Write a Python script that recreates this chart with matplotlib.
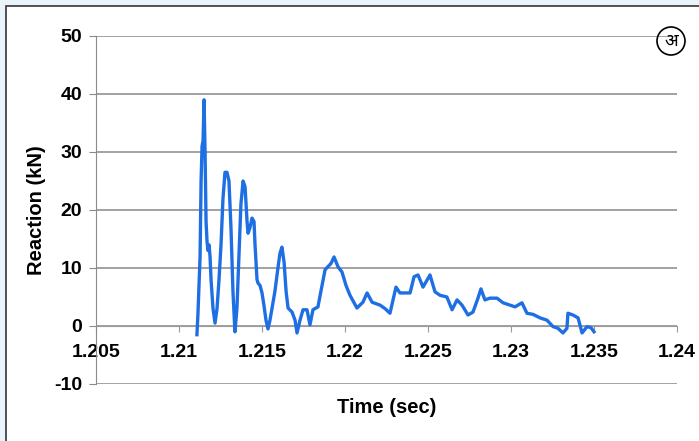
import matplotlib
matplotlib.use("Agg")
import matplotlib.pyplot as plt
from matplotlib.patches import Rectangle, Circle

time_s = [1.21108, 1.21114, 1.21127, 1.21133, 1.21139, 1.21145, 1.21151, 1.21157,
          1.21163, 1.21169, 1.21175, 1.21181, 1.21187, 1.21193, 1.21205, 1.21217,
          1.21229, 1.21241, 1.21253, 1.21265, 1.21277, 1.21289, 1.21301, 1.21313,
          1.21325, 1.21337, 1.21349, 1.21361, 1.21373, 1.21386, 1.21398, 1.21410,
          1.21416, 1.21428, 1.21440, 1.21452, 1.21458, 1.21470, 1.21476, 1.21488,
          1.21500, 1.21512, 1.21524, 1.21536, 1.21548, 1.21560, 1.21578, 1.21596,
          1.21608, 1.21620, 1.21633, 1.21645, 1.21657, 1.21681, 1.21699, 1.21711,
          1.21729, 1.21747, 1.21771, 1.21789, 1.21807, 1.21837, 1.21855, 1.21880,
          1.21916, 1.21934, 1.21958, 1.21982, 1.22006, 1.22030, 1.22072, 1.22108,
          1.22133, 1.22163, 1.22211, 1.22241, 1.22271, 1.22307, 1.22331, 1.22392,
          1.22416, 1.22440, 1.22470, 1.22512, 1.22542, 1.22572, 1.22614, 1.22645,
          1.22675, 1.22705, 1.22741, 1.22771, 1.22801, 1.22819, 1.22843, 1.22873,
          1.22916, 1.22952, 1.22994, 1.23024, 1.23066, 1.23096, 1.23133, 1.23175,
          1.23217, 1.23253, 1.23283, 1.23313, 1.23337, 1.23343, 1.23373, 1.23404,
          1.23428, 1.23458, 1.23482, 1.23500]
reaction_kn = [-1.5, 2, 12, 25, 31, 32, 39, 30,
               18, 14.5, 13, 14, 12, 8, 3, 0.5,
               3, 8, 14, 22, 26.5, 26.5, 25, 17,
               6, -1, 3, 12, 21, 25, 24, 18,
               16, 17, 18.6, 18, 14, 8, 7.4, 7,
               5.7, 3.5, 1, -0.5, 1, 3, 6, 10,
               12.5, 13.6, 11, 6, 3.1, 2.4, 1, -1.2,
               1, 2.8, 2.8, 0.2, 2.8, 3.3, 6, 9.7,
               10.8, 11.9, 10.2, 9.3, 7, 5.3, 3.1, 4.1,
               5.7, 4.1, 3.6, 3, 2.2, 6.7, 5.7, 5.7,
               8.5, 8.8, 6.7, 8.8, 5.9, 5.3, 5, 2.8,
               4.5, 3.6, 1.9, 2.4, 4.8, 6.4, 4.5, 4.8,
               4.8, 4, 3.6, 3.3, 4, 2.2, 2, 1.4,
               1, -0.1, -0.4, -1.2, -0.4, 2.2, 1.9, 1.4,
               -1.2, -0.1, -0.3, -1]

x_ticks = [1.205, 1.21, 1.215, 1.22, 1.225, 1.23, 1.235, 1.24]
x_labels = ["1.205", "1.21", "1.215", "1.22", "1.225", "1.23", "1.235", "1.24"]
y_ticks = [-10, 0, 10, 20, 30, 40, 50]

plt.rcParams['font.family'] = ['Liberation Sans', 'DejaVu Sans']

W, H = 699, 441
fig = plt.figure(figsize=(W / 100, H / 100), dpi=100)
fig.patch.set_facecolor('#e8f4fa')

# white panel with dark border (runs off the right and bottom edges)
panel = Rectangle((6 / W, -0.1), 1.2, 1 - 6 / H + 0.1, transform=fig.transFigure,
                  facecolor='white', edgecolor='#333333', lw=1.2, zorder=-5)
fig.patches.append(panel)

ax = fig.add_axes([96 / W, 1 - 384 / H, 581 / W, 348 / H])
ax.set_zorder(2)
ax.set_facecolor('none')
ax.set_xlim(1.205, 1.24)
ax.set_ylim(-10, 50)

for y in y_ticks:
    ax.axhline(y, color='#9a9a9a', lw=1.3, zorder=1)

ax.plot(time_s, reaction_kn, color='#1e6fe3', lw=2.4, zorder=3,
        solid_joinstyle='round')

for s in ['top', 'right']:
    ax.spines[s].set_visible(False)
ax.spines['bottom'].set_position(('data', 0))
ax.spines['bottom'].set_color('#9a9a9a')
ax.spines['left'].set_color('#8a8a8a')

ax.set_xticks(x_ticks)
ax.set_xticklabels(x_labels, fontsize=14, fontweight='bold')
ax.set_yticks(y_ticks)
ax.set_yticklabels([str(v) for v in y_ticks], fontsize=14, fontweight='bold')
ax.tick_params(axis='x', length=4, color='#9a9a9a', pad=9)
ax.tick_params(axis='y', length=5, color='#8a8a8a', pad=5)

ax.set_ylabel("Reaction (kN)", fontsize=14.5, fontweight='bold', labelpad=6)
ax.set_xlabel("Time (sec)", fontsize=14.5, fontweight='bold')
ax.xaxis.set_label_coords(0.5, -0.04)

# circled marker at top right
circ = Circle((6.71, (H - 41) / 100), 0.14, transform=fig.dpi_scale_trans,
              fill=False, edgecolor='black', lw=1.2, zorder=5)
fig.patches.append(circ)
fig.text(671 / W, 1 - 41 / H, "अ", ha='center', va='center', fontsize=13,
         fontweight='bold', family=['Noto Sans', 'Lato', 'DejaVu Sans'])

fig.savefig("out.png", dpi=100, facecolor=fig.get_facecolor())
